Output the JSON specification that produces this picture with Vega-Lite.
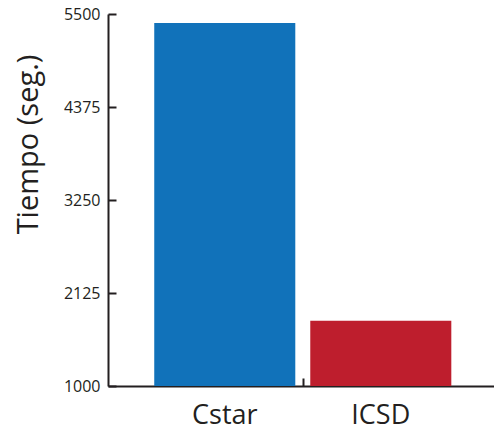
{
  "$schema": "https://vega.github.io/schema/vega-lite/v6.json",
  "autosize": {"type": "none"},
  "padding": {"left": 108, "top": 14, "right": 0, "bottom": 46},
  "width": 386,
  "height": 372,
  "background": "white",
  "config": {"view": {"stroke": null}, "font": "Open Sans"},
  "data": {"values": [
    {"metodo": "Cstar", "tiempo": 5390},
    {"metodo": "ICSD", "tiempo": 1790}
  ]},
  "mark": {"type": "bar"},
  "encoding": {
    "x": {
      "field": "metodo", "type": "nominal", "sort": null,
      "scale": {"paddingInner": 0.096, "paddingOuter": 0.285, "align": 0.52},
      "axis": {
        "title": null, "labelAngle": 0, "labelFont": "Open Sans", "labelFontSize": 27,
        "labelColor": "#231f20", "labelPadding": 24, "domainColor": "#231f20", "domainWidth": 2,
        "tickColor": "#231f20", "tickWidth": 2, "tickSize": -8, "bandPosition": 1.055,
        "tickOpacity": {"condition": {"test": "datum.value === 'Cstar'", "value": 1}, "value": 0}
      }
    },
    "y": {
      "field": "tiempo", "type": "quantitative",
      "scale": {"domain": [1000, 5500], "zero": false, "nice": false},
      "axis": {
        "title": "Tiempo (seg.)", "values": [1000, 2125, 3250, 4375, 5500], "format": "d",
        "grid": false, "labelFont": "Open Sans", "labelFontSize": 16, "labelColor": "#231f20",
        "labelPadding": 16,
        "domainColor": "#231f20", "domainWidth": 2, "tickColor": "#231f20", "tickWidth": 2, "tickSize": -8,
        "titleFont": "Open Sans", "titleFontSize": 29, "titleFontWeight": "normal", "titleColor": "#231f20",
        "titleX": -71, "titleY": 130, "titleAngle": -90, "titleAlign": "center", "titleBaseline": "alphabetic"
      }
    },
    "y2": {"datum": 1000},
    "color": {
      "field": "metodo", "type": "nominal", "legend": null,
      "scale": {"domain": ["Cstar", "ICSD"], "range": ["#1172ba", "#be1e2d"]}
    }
  }
}
